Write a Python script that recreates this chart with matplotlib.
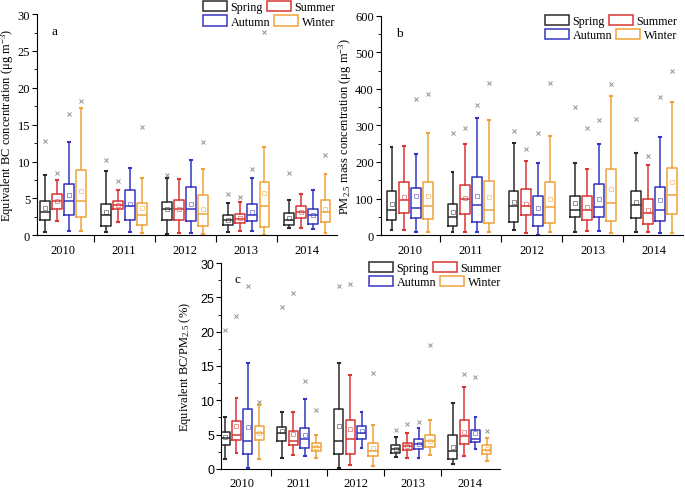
import numpy as np
import matplotlib
matplotlib.use('Agg')
import matplotlib.pyplot as plt
from matplotlib.patches import Rectangle
from matplotlib.legend import Legend
from matplotlib.ticker import MultipleLocator, FixedLocator

plt.rcParams['font.family'] = ['Liberation Serif', 'DejaVu Serif']
plt.rcParams['mathtext.fontset'] = 'custom'
plt.rcParams['mathtext.rm'] = 'Liberation Serif'
plt.rcParams['mathtext.it'] = 'Liberation Serif:italic'

years = ['2010', '2011', '2012', '2013', '2014']
seasons = ['Spring', 'Summer', 'Autumn', 'Winter']
colors = ['#2b2b2b', '#d93636', '#3535c0', '#f0a23a']

# each entry: [whislo, q1, median, q3, whishi, mean, x-marker (None if hidden)]
# order: year by year, season by season
bc = [
    [[0.4, 2.0, 3.2, 4.7, 8.2, 3.7, 12.8], [1.9, 3.6, 4.6, 5.6, 7.5, 4.7, 8.5],
     [0.6, 2.8, 4.7, 6.9, 12.7, 5.4, 16.5], [0.6, 2.5, 4.7, 8.8, 17.2, 6.0, 18.2]],
    [[0.4, 1.2, 2.7, 4.3, 8.7, 3.1, 10.2], [1.8, 3.5, 4.1, 4.7, 6.2, 4.1, 7.3],
     [0.5, 2.1, 4.0, 6.2, 9.1, 4.2, None], [0.3, 1.4, 2.8, 4.4, 7.7, 3.7, 14.7]],
    [[0.2, 2.1, 3.5, 4.5, 7.7, 3.5, 8.2], [0.3, 2.1, 3.6, 4.8, 7.6, 3.6, None],
     [0.3, 1.9, 3.6, 6.5, 10.2, 4.2, None], [0.1, 1.2, 2.9, 5.4, 9.0, 3.5, 12.7]],
    [[0.4, 1.4, 2.0, 2.7, 4.4, 2.1, 5.6], [0.6, 1.6, 2.2, 2.9, 4.5, 2.4, 5.2],
     [0.6, 1.9, 2.7, 4.3, 7.8, 3.2, 9.0], [0.0, 1.1, 3.9, 7.2, 12.0, 5.7, 27.6]],
    [[1.0, 1.4, 2.0, 3.0, 4.8, 2.4, 8.4], [1.0, 2.3, 3.2, 3.9, 5.6, 3.1, None],
     [0.8, 1.5, 2.8, 3.6, 6.1, 2.7, None], [0.3, 1.8, 3.2, 4.8, 8.3, 3.6, 10.9]],
]

pm = [
    [[15, 42, 69, 121, 242, 86, None], [15, 60, 97, 145, 244, 103, None],
     [10, 46, 73, 130, 222, 107, 373], [10, 43, 79, 144, 280, 107, 385]],
    [[8, 24, 49, 85, 173, 64, 280], [10, 59, 98, 136, 250, 102, 292],
     [10, 36, 82, 158, 320, 107, 357], [10, 32, 68, 147, 315, 103, 416]],
    [[15, 36, 79, 122, 252, 90, 284], [5, 54, 79, 125, 203, 86, 236],
     [0, 26, 54, 108, 197, 74, 280], [10, 34, 76, 145, 272, 100, 416]],
    [[10, 49, 68, 108, 197, 89, 351], [12, 42, 70, 107, 180, 78, 294],
     [12, 51, 76, 141, 249, 100, 314], [5, 40, 89, 181, 380, 127, 412]],
    [[8, 46, 82, 120, 224, 92, 317], [10, 30, 60, 98, 191, 69, 217],
     [5, 40, 68, 133, 268, 96, 378], [5, 58, 111, 183, 365, 144, 450]],
]

ratio = [
    [[1.5, 3.5, 4.5, 5.4, 7.5, 4.7, 20.3], [2.3, 4.2, 5.0, 7.0, 10.3, 6.3, 22.3],
     [0.2, 2.2, 4.1, 8.7, 15.5, 6.1, 26.7], [1.4, 4.2, 5.2, 6.3, 9.3, 5.3, 9.8]],
    [[1.6, 4.1, 5.2, 6.1, 8.3, 5.6, 23.6], [2.0, 3.5, 4.0, 5.6, 8.3, 5.1, 25.7],
     [1.9, 3.1, 4.3, 6.0, 10.2, 4.9, 12.8], [1.6, 2.6, 3.2, 3.8, 5.0, 3.2, 8.6]],
    [[0.2, 2.2, 4.1, 8.7, 15.5, 6.2, 26.7], [0.5, 2.2, 4.4, 7.1, 13.7, 5.8, 26.9],
     [3.0, 4.4, 5.2, 6.3, 8.3, 5.5, None], [0.4, 1.9, 2.6, 3.8, 6.4, 3.1, 14.0]],
    [[1.8, 2.3, 2.9, 3.5, 4.6, 2.9, 5.7], [1.6, 2.7, 3.3, 3.8, 5.2, 3.3, 6.6],
     [1.6, 2.9, 3.6, 4.4, 5.9, 3.7, 6.8], [2.1, 3.2, 4.0, 4.9, 7.2, 4.1, 18.0]],
    [[0.7, 1.5, 2.6, 5.0, 9.6, 3.2, None], [1.9, 3.7, 4.8, 7.1, 11.9, 5.4, 13.8],
     [2.9, 3.9, 4.3, 5.7, 7.6, 5.3, 13.4], [1.1, 2.2, 2.8, 3.5, 4.5, 2.9, 5.6]],
]

offsets = [-0.3, -0.1, 0.1, 0.3]


def draw_panel(ax, data, ymax, ystep, yminor, label, ylabel, xlim, leg_xy, label_x, sans_y=False):
    for yi, group in enumerate(data):
        for si, v in enumerate(group):
            c = colors[si]
            st = dict(whislo=v[0], q1=v[1], med=v[2], q3=v[3], whishi=v[4],
                      mean=v[5], fliers=[] if v[6] is None else [v[6]])
            ax.bxp([st], positions=[yi + 1 + offsets[si]], widths=0.16,
                   showmeans=True, showfliers=True, manage_ticks=False,
                   boxprops=dict(color=c, linewidth=1.1),
                   medianprops=dict(color=c, linewidth=1.1),
                   whiskerprops=dict(color=c, linewidth=1.1),
                   capprops=dict(color=c, linewidth=1.5),
                   capwidths=0.03,
                   meanprops=dict(marker='s', markersize=3.2, markerfacecolor='none',
                                  markeredgecolor=c, markeredgewidth=0.6, alpha=0.6),
                   flierprops=dict(marker='x', markersize=3.2, markeredgecolor='#777777',
                                   markeredgewidth=0.7, alpha=0.8))
    ax.set_xlim(*xlim)
    ax.set_ylim(0, ymax)
    ax.yaxis.set_major_locator(MultipleLocator(ystep))
    ax.yaxis.set_minor_locator(MultipleLocator(yminor))
    ax.xaxis.set_major_locator(FixedLocator([1.5, 2.5, 3.5, 4.5]))
    ax.xaxis.set_minor_locator(FixedLocator([1, 2, 3, 4, 5]))
    ax.xaxis.set_major_formatter(plt.NullFormatter())
    ax.xaxis.set_minor_formatter(plt.FixedFormatter(years))
    ax.tick_params(axis='x', which='major', length=5, direction='out')
    ax.tick_params(axis='x', which='minor', length=0, labelsize=9, pad=6)
    ax.tick_params(axis='y', which='major', length=3.5, direction='out', labelsize=9, pad=1.5)
    ax.tick_params(axis='y', which='minor', length=2, direction='out')
    if sans_y:
        for t in ax.get_yticklabels():
            t.set_fontfamily(['Liberation Sans', 'DejaVu Sans'])
    for s in ['top', 'right']:
        ax.spines[s].set_visible(False)
    ax.set_ylabel(ylabel, fontsize=9, va='center')
    ax.yaxis.set_label_coords(label_x, 0.5)
    ax.text(0.05, 0.95, label, transform=ax.transAxes, fontsize=9.5, va='top')

    # legend: two independent rows, as in the original
    x0, y0, dy = leg_xy
    for row, pair in enumerate([(0, 1), (2, 3)]):
        handles = [Rectangle((0, 0), 1, 1, facecolor='white', edgecolor=colors[i], linewidth=1.1)
                   for i in pair]
        leg = Legend(ax, handles, [seasons[i] for i in pair], ncol=2, loc='upper left',
                     bbox_to_anchor=(x0, y0 - row * dy), frameon=False, fontsize=8.7,
                     handlelength=2.0, handleheight=0.95, handletextpad=0.3,
                     columnspacing=0.3, borderpad=0, borderaxespad=0)
        ax.add_artist(leg)


fig = plt.figure(figsize=(6.85, 4.89), dpi=100)
ax_a = fig.add_axes([0.054, 0.517, 0.438, 0.452])
ax_b = fig.add_axes([0.556, 0.517, 0.441, 0.449])
ax_c = fig.add_axes([0.3226, 0.039, 0.4073, 0.421])

draw_panel(ax_a, bc, 30, 5, 2.5, 'a', 'Equivalent BC concentration (μg m$^{-3}$)',
           (0.574, 5.49), (0.553, 1.06, 0.065), -0.098)
draw_panel(ax_b, pm, 600, 100, 50, 'b', 'PM$_{2.5}$ mass concentration (μg m$^{-3}$)',
           (0.525, 5.475), (0.543, 1.005, 0.065), -0.118)
draw_panel(ax_c, ratio, 30, 5, 2.5, 'c', 'Equivalent BC/PM$_{2.5}$ (%)',
           (0.63, 5.53), (0.53, 1.005, 0.068), -0.13, sans_y=True)

fig.savefig('out.png', dpi=100)
